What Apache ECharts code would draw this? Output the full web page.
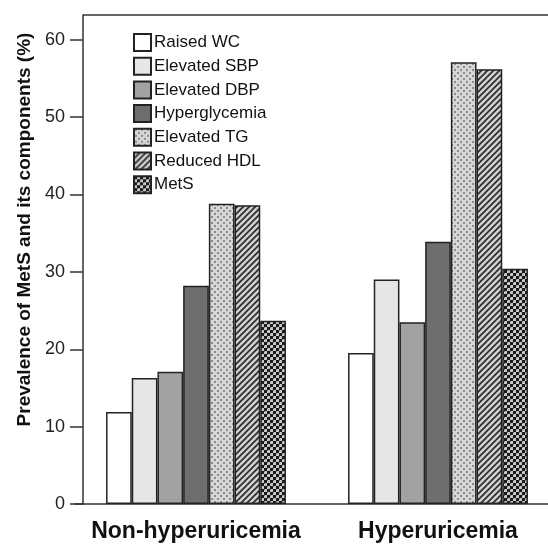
<!DOCTYPE html>
<html>
<head>
<meta charset="utf-8">
<script src="https://cdn.jsdelivr.net/npm/echarts@6/dist/echarts.min.js"></script>
<style>html,body{margin:0;padding:0;background:#fff}#c{width:548px;height:546px}</style>
</head>
<body>
<div id="c"></div>
<script>
const categories = ['Non-hyperuricemia', 'Hyperuricemia'];
const seriesNames = ['Raised WC', 'Elevated SBP', 'Elevated DBP', 'Hyperglycemia', 'Elevated TG', 'Reduced HDL', 'MetS'];
const raisedWC = [11.9, 19.5];
const elevatedSBP = [16.3, 29.0];
const elevatedDBP = [17.1, 23.5];
const hyperglycemia = [28.2, 33.9];
const elevatedTG = [38.8, 57.1];
const reducedHDL = [38.6, 56.2];
const metS = [23.7, 30.4];
const yTicks = [0, 10, 20, 30, 40, 50, 60];

function pattern(w, h, bg, draw) {
  const c = document.createElement('canvas');
  c.width = w; c.height = h;
  const g = c.getContext('2d');
  g.fillStyle = bg; g.fillRect(0, 0, w, h);
  draw(g);
  return { image: c, repeat: 'repeat' };
}
const dotPat = pattern(6, 6, '#d6d6d6', g => {
  g.fillStyle = '#8a8a8a';
  g.fillRect(1, 0, 2, 2); g.fillRect(4, 3, 2, 2);
});
const stripePat = pattern(6, 6, '#cfcfcf', g => {
  g.strokeStyle = '#2a2a2a'; g.lineWidth = 1.6;
  g.beginPath();
  g.moveTo(-1, 7); g.lineTo(7, -1);
  g.moveTo(-4, 4); g.lineTo(4, -4);
  g.moveTo(2, 10); g.lineTo(10, 2);
  g.stroke();
});
const checkPat = pattern(6, 6, '#c8c8c8', g => {
  g.fillStyle = '#1a1a1a';
  g.fillRect(0, 0, 3, 3); g.fillRect(3, 3, 3, 3);
  g.fillStyle = '#777';
  g.fillRect(3, 0, 1, 1); g.fillRect(0, 3, 1, 1);
});

const fills = ['#ffffff', '#e6e6e6', '#a2a2a2', '#6e6e6e', dotPat, stripePat, checkPat];
const values = [raisedWC, elevatedSBP, elevatedDBP, hyperglycemia, elevatedTG, reducedHDL, metS];

const chart = echarts.init(document.getElementById('c'), null, { renderer: 'canvas' });
chart.setOption({
  animation: false,
  backgroundColor: '#fff',
  textStyle: { fontFamily: 'Liberation Sans, Arial, sans-serif' },
  grid: { left: 75, top: 15, width: 484, bottom: 42, containLabel: false, outerBoundsMode: 'none' },
  legend: {
    orient: 'vertical', left: 133, top: 33, padding: 0,
    itemWidth: 17, itemHeight: 17, itemGap: 4.7,
    icon: 'rect',
    textStyle: { fontSize: 17, lineHeight: 17, color: '#111', padding: [0, 0, 0, -2] },
    data: seriesNames
  },
  xAxis: {
    type: 'category', data: categories,
    axisLine: { lineStyle: { color: '#333', width: 1.5 } },
    axisTick: { alignWithLabel: true, length: 13, lineStyle: { color: '#333', width: 1.5 } },
    axisLabel: { fontSize: 23, fontWeight: 'bold', color: '#111', margin: 16, interval: 0, hideOverlap: false }
  },
  yAxis: {
    type: 'value', min: 0, max: 63.2, interval: 10, offset: -8,
    name: 'Prevalence of MetS and its components (%)',
    nameLocation: 'middle', nameGap: 49,
    nameTextStyle: { fontSize: 19, fontWeight: 'bold', color: '#111', padding: [0, 0, 0, 60] },
    axisLine: { show: true, lineStyle: { color: '#333', width: 1.5 } },
    axisTick: { show: true, length: 13, customValues: yTicks, lineStyle: { color: '#333', width: 1.5 } },
    axisLabel: { fontSize: 18, color: '#222', margin: 18, customValues: yTicks },
    splitLine: { show: false }
  },
  graphic: [{
    type: 'line', shape: { x1: 83, y1: 15, x2: 548, y2: 15 },
    style: { stroke: '#333', lineWidth: 1.5 }
  }],
  series: seriesNames.map((n, i) => ({
    name: n, type: 'bar', data: values[i],
    barWidth: 25.7, barGap: '0%',
    itemStyle: { color: fills[i], borderColor: '#222', borderWidth: 1.5 }
  }))
});
</script>
</body>
</html>
